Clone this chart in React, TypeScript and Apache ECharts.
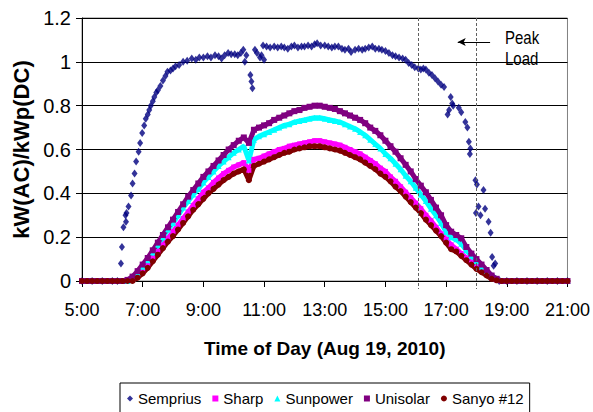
import React, { useEffect, useRef } from "react";
import * as echarts from "echarts";

const FONT = "'Liberation Sans', Arial, sans-serif";

// 10-minute sampling grid for the four band series
const TIMES = [
  "5:00", "5:10", "5:20", "5:30", "5:40", "5:50",
  "6:00", "6:10", "6:20", "6:30", "6:40", "6:50",
  "7:00", "7:10", "7:20", "7:30", "7:40", "7:50",
  "8:00", "8:10", "8:20", "8:30", "8:40", "8:50",
  "9:00", "9:10", "9:20", "9:30", "9:40", "9:50",
  "10:00", "10:10", "10:20", "10:30", "10:40", "10:50",
  "11:00", "11:10", "11:20", "11:30", "11:40", "11:50",
  "12:00", "12:10", "12:20", "12:30", "12:40", "12:50",
  "13:00", "13:10", "13:20", "13:30", "13:40", "13:50",
  "14:00", "14:10", "14:20", "14:30", "14:40", "14:50",
  "15:00", "15:10", "15:20", "15:30", "15:40", "15:50",
  "16:00", "16:10", "16:20", "16:30", "16:40", "16:50",
  "17:00", "17:10", "17:20", "17:30", "17:40", "17:50",
  "18:00", "18:10", "18:20", "18:30", "18:40", "18:50",
  "19:00", "19:10", "19:20", "19:30", "19:40", "19:50",
  "20:00", "20:10", "20:20", "20:30", "20:40", "20:50",
  "21:00",
];

const SHARP = [
  0, 0, 0, 0, 0, 0,
  0, 0, 0, 0, 0.005, 0.02,
  0.045, 0.075, 0.105, 0.135, 0.165, 0.195,
  0.225, 0.255, 0.285, 0.315, 0.345, 0.375,
  0.405, 0.425, 0.45, 0.47, 0.49, 0.505,
  0.52, 0.53, 0.54, 0.505, 0.555, 0.56,
  0.57, 0.58, 0.59, 0.6, 0.605, 0.615,
  0.62, 0.625, 0.63, 0.635, 0.64, 0.64,
  0.635, 0.63, 0.625, 0.62, 0.61, 0.6,
  0.59, 0.58, 0.565, 0.55, 0.535, 0.515,
  0.5, 0.475, 0.455, 0.43, 0.405, 0.38,
  0.355, 0.33, 0.3, 0.275, 0.245, 0.215,
  0.19, 0.165, 0.145, 0.125, 0.105, 0.085,
  0.065, 0.045, 0.03, 0.015, 0.005, 0,
  0, 0, 0, 0, 0, 0,
  0, 0, 0, 0, 0, 0,
  0,
];

const SUNPOWER = [
  0, 0, 0, 0, 0, 0,
  0, 0, 0, 0, 0.01, 0.035,
  0.065, 0.095, 0.13, 0.165, 0.2, 0.235,
  0.265, 0.3, 0.335, 0.365, 0.395, 0.42,
  0.45, 0.475, 0.5, 0.525, 0.545, 0.565,
  0.585, 0.6, 0.615, 0.55, 0.645, 0.66,
  0.67, 0.68, 0.69, 0.7, 0.71, 0.715,
  0.725, 0.73, 0.735, 0.74, 0.745, 0.745,
  0.74, 0.735, 0.73, 0.725, 0.715, 0.705,
  0.695, 0.68, 0.665, 0.645, 0.625, 0.605,
  0.58, 0.56, 0.535, 0.51, 0.48, 0.455,
  0.425, 0.395, 0.365, 0.33, 0.3, 0.265,
  0.225, 0.2, 0.19, 0.17, 0.14, 0.115,
  0.09, 0.065, 0.045, 0.025, 0.01, 0,
  0, 0, 0, 0, 0, 0,
  0, 0, 0, 0, 0, 0,
  0,
];

const UNISOLAR = [
  0, 0, 0, 0, 0, 0,
  0, 0, 0, 0.005, 0.02, 0.045,
  0.075, 0.105, 0.14, 0.175, 0.21, 0.245,
  0.28, 0.315, 0.35, 0.385, 0.415, 0.445,
  0.475, 0.5, 0.525, 0.55, 0.575, 0.6,
  0.62, 0.64, 0.655, 0.63, 0.69, 0.7,
  0.71, 0.72, 0.735, 0.745, 0.755, 0.765,
  0.775, 0.78, 0.79, 0.795, 0.8, 0.8,
  0.795, 0.79, 0.785, 0.775, 0.765, 0.755,
  0.745, 0.735, 0.72, 0.7, 0.685, 0.665,
  0.64, 0.615, 0.59, 0.56, 0.53, 0.5,
  0.465, 0.435, 0.405, 0.37, 0.335, 0.3,
  0.255, 0.225, 0.21, 0.195, 0.155, 0.125,
  0.1, 0.075, 0.05, 0.025, 0.01, 0,
  0, 0, 0, 0, 0, 0,
  0, 0, 0, 0, 0, 0,
  0,
];

const SANYO = [
  0, 0, 0, 0, 0, 0,
  0, 0, 0, 0, 0, 0.015,
  0.035, 0.06, 0.09, 0.12, 0.15, 0.18,
  0.205, 0.235, 0.265, 0.295, 0.325, 0.35,
  0.375, 0.4, 0.42, 0.44, 0.46, 0.475,
  0.49, 0.5, 0.51, 0.46, 0.525, 0.535,
  0.545, 0.555, 0.565, 0.575, 0.585, 0.59,
  0.6, 0.605, 0.61, 0.615, 0.615, 0.615,
  0.61, 0.605, 0.6, 0.595, 0.585, 0.575,
  0.565, 0.555, 0.54, 0.525, 0.51, 0.49,
  0.475, 0.455, 0.43, 0.41, 0.385, 0.36,
  0.335, 0.31, 0.28, 0.255, 0.23, 0.205,
  0.175, 0.145, 0.135, 0.115, 0.095, 0.075,
  0.055, 0.04, 0.025, 0.01, 0.003, 0,
  0, 0, 0, 0, 0, 0,
  0, 0, 0, 0, 0, 0,
  0,
];

// Semprius readings (irregular timestamps)
const SEMPRIUS: [string, number][] = [
  ["5:00", 0], ["5:20", 0], ["5:40", 0], ["6:00", 0], ["6:10", 0],
  ["6:17", 0.08], ["6:19", 0.155], ["6:22", 0.245], ["6:26", 0.3], ["6:27", 0.27],
  ["6:28", 0.31], ["6:32", 0.34], ["6:37", 0.39], ["6:40", 0.445], ["6:44", 0.49],
  ["6:47", 0.545], ["6:52", 0.59], ["6:55", 0.63], ["6:59", 0.675], ["7:03", 0.71],
  ["7:06", 0.74], ["7:10", 0.76], ["7:13", 0.78], ["7:16", 0.8], ["7:20", 0.82],
  ["7:23", 0.84], ["7:27", 0.86], ["7:30", 0.87], ["7:35", 0.89], ["7:40", 0.915],
  ["7:45", 0.935], ["7:49", 0.955], ["7:55", 0.96], ["8:00", 0.97], ["8:05", 0.98],
  ["8:12", 0.985], ["8:20", 1.0], ["8:28", 1.005], ["8:37", 1.015], ["8:45", 1.01],
  ["8:52", 1.02], ["9:00", 1.02], ["9:08", 1.025], ["9:15", 1.02], ["9:23", 1.03],
  ["9:30", 1.025], ["9:36", 1.015], ["9:42", 1.03], ["9:49", 1.04], ["9:55", 1.035],
  ["10:02", 1.035], ["10:08", 1.03], ["10:14", 1.04], ["10:19", 1.055], ["10:22", 1.0],
  ["10:25", 1.03], ["10:33", 0.94], ["10:35", 0.91], ["10:37", 0.88], ["10:42", 1.055],
  ["10:46", 1.04], ["10:52", 1.02], ["10:55", 1.03], ["10:58", 1.075], ["11:00", 1.01],
  ["11:05", 1.07], ["11:12", 1.065], ["11:20", 1.07], ["11:27", 1.065], ["11:34", 1.07],
  ["11:40", 1.065], ["11:47", 1.06], ["11:54", 1.07], ["12:00", 1.075], ["12:07", 1.065],
  ["12:14", 1.07], ["12:20", 1.07], ["12:27", 1.075], ["12:34", 1.07], ["12:40", 1.08],
  ["12:45", 1.085], ["12:52", 1.075], ["13:00", 1.075], ["13:07", 1.07], ["13:14", 1.065],
  ["13:20", 1.07], ["13:27", 1.07], ["13:34", 1.06], ["13:40", 1.055], ["13:47", 1.06],
  ["13:52", 1.045], ["14:00", 1.055], ["14:07", 1.06], ["14:14", 1.055], ["14:20", 1.06],
  ["14:27", 1.065], ["14:34", 1.07], ["14:40", 1.06], ["14:47", 1.06], ["14:53", 1.055],
  ["15:00", 1.05], ["15:07", 1.04], ["15:14", 1.03], ["15:20", 1.025], ["15:27", 1.02],
  ["15:34", 1.015], ["15:40", 1.01], ["15:46", 0.995], ["15:52", 0.985], ["15:58", 0.975],
  ["16:05", 0.97], ["16:10", 0.965], ["16:15", 0.97], ["16:20", 0.965], ["16:26", 0.95],
  ["16:32", 0.94], ["16:38", 0.925], ["16:44", 0.91], ["16:50", 0.895], ["16:56", 0.885],
  ["17:03", 0.76], ["17:06", 0.78], ["17:09", 0.84], ["17:12", 0.81], ["17:14", 0.8],
  ["17:25", 0.79], ["17:30", 0.77], ["17:38", 0.725], ["17:42", 0.7], ["17:45", 0.635],
  ["17:47", 0.58], ["17:48", 0.605], ["17:58", 0.46], ["17:59", 0.31], ["18:01", 0.44],
  ["18:04", 0.34], ["18:08", 0.3], ["18:14", 0.415], ["18:17", 0.33], ["18:24", 0.27],
  ["18:28", 0.22], ["18:31", 0.11], ["18:34", 0.07], ["18:37", 0.08], ["18:45", 0],
  ["19:00", 0], ["19:20", 0], ["19:40", 0], ["20:00", 0], ["20:20", 0], ["20:40", 0], ["21:00", 0],
];

const PEAK_LOAD_LINES = ["16:05", "18:00"];
const ARROW_FROM: [string, number] = ["18:27", 1.09];
const ARROW_TO: [string, number] = ["17:23", 1.09];

const toHours = (s: string) => {
  const [h, m] = s.split(":").map(Number);
  return h + m / 60;
};

const band = (vals: number[]) => TIMES.map((t, i) => [toHours(t), vals[i]]);

export default function App() {
  const ref = useRef<HTMLDivElement>(null);

  useEffect(() => {
    if (!ref.current) return;
    const chart = echarts.init(ref.current, undefined, { renderer: "svg" });

    const bandSeries = (name: string, vals: number[], color: string, symbol: string, size: number) => ({
      name,
      type: "line",
      data: band(vals),
      symbol,
      symbolSize: size,
      showSymbol: true,
      showAllSymbol: true,
      itemStyle: { color },
      lineStyle: { color, width: 5 },
      silent: true,
    });

    chart.setOption({
      animation: false,
      textStyle: { fontFamily: FONT, color: "#000" },
      grid: {
        left: 82,
        right: 20,
        top: 18,
        bottom: 131,
        show: true,
        borderColor: "#808080",
        borderWidth: 1,
        backgroundColor: "transparent",
      },
      legend: {
        data: [
          { name: "Semprius", icon: "diamond" },
          { name: "Sharp", icon: "rect" },
          { name: "Sunpower", icon: "triangle" },
          { name: "Unisolar", icon: "rect" },
          { name: "Sanyo #12", icon: "circle" },
        ],
        left: 120,
        top: 383,
        orient: "horizontal",
        padding: [8, 6, 8, 7],
        borderColor: "#000",
        borderWidth: 1,
        itemWidth: 6,
        itemHeight: 6,
        itemGap: 11,
        textStyle: { fontFamily: FONT, fontSize: 15, color: "#000" },
        selectedMode: false,
      },
      xAxis: {
        type: "value",
        min: 5,
        max: 21,
        interval: 2,
        name: "Time of Day (Aug 19, 2010)",
        nameLocation: "middle",
        nameGap: 58,
        nameTextStyle: { fontFamily: FONT, fontSize: 19, fontWeight: "bold", color: "#000" },
        axisLine: { show: true, onZero: false, lineStyle: { color: "#000", width: 1 } },
        axisTick: { show: true, inside: false, length: 6, lineStyle: { color: "#000" } },
        axisLabel: {
          fontFamily: FONT,
          fontSize: 18,
          color: "#000",
          margin: 20,
          formatter: (v: number) => `${v}:00`,
        },
        splitLine: { show: false },
      },
      yAxis: {
        type: "value",
        min: 0,
        max: 1.2,
        interval: 0.2,
        name: "kW(AC)/kWp(DC)",
        nameLocation: "middle",
        nameRotate: 90,
        nameGap: 48,
        nameTextStyle: { fontFamily: FONT, fontSize: 22, fontWeight: "bold", color: "#000" },
        axisLine: { show: true, lineStyle: { color: "#000", width: 1 } },
        axisTick: { show: true, inside: false, length: 6, lineStyle: { color: "#000" } },
        axisLabel: { fontFamily: FONT, fontSize: 20, color: "#000", margin: 11 },
        splitLine: { show: true, lineStyle: { color: "#000", width: 1 } },
      },
      series: [
        {
          name: "Semprius",
          type: "scatter",
          data: SEMPRIUS.map(([t, v]) => [toHours(t), v]),
          symbol: "diamond",
          symbolSize: [6, 8],
          itemStyle: { color: "#000080" },
          silent: true,
          markLine: {
            silent: true,
            animation: false,
            label: { show: false },
            data: [
              [
                {
                  coord: [toHours(ARROW_FROM[0]), ARROW_FROM[1]],
                  symbol: "none",
                  lineStyle: { color: "#000", width: 1, type: "solid" },
                },
                {
                  coord: [toHours(ARROW_TO[0]), ARROW_TO[1]],
                  symbol: "arrow",
                  symbolSize: [6, 8],
                },
              ],
            ],
          },
        },
        bandSeries("Sharp", SHARP, "#FF00FF", "rect", 5),
        bandSeries("Sunpower", SUNPOWER, "#00FFFF", "triangle", 6),
        bandSeries("Unisolar", UNISOLAR, "#800080", "rect", 6),
        bandSeries("Sanyo #12", SANYO, "#800000", "circle", 6),
      ],
    });

    // Peak-load boundary lines (positions from the chart's own scales) and annotation
    const graphics: any[] = PEAK_LOAD_LINES.map((t) => {
      const top = chart.convertToPixel({ gridIndex: 0 }, [toHours(t), 1.2]) as number[];
      const bottom = chart.convertToPixel({ gridIndex: 0 }, [toHours(t), 0]) as number[];
      const x = Math.round(top[0]) + 0.5;
      return {
        type: "line",
        silent: true,
        z: 50,
        shape: { x1: x, y1: top[1], x2: x, y2: bottom[1] + 8 },
        style: { stroke: "#606060", lineWidth: 1, lineDash: [3, 2] },
      };
    });
    graphics.push(
      {
        type: "text",
        x: 505,
        y: 29,
        scaleY: 1.25,
        z: 100,
        style: { text: "Peak", fontFamily: FONT, fontSize: 15, fill: "#000", verticalAlign: "top" },
      },
      {
        type: "text",
        x: 505,
        y: 50,
        scaleY: 1.25,
        z: 100,
        style: { text: "Load", fontFamily: FONT, fontSize: 15, fill: "#000", verticalAlign: "top" },
      }
    );
    chart.setOption({ graphic: graphics });

    return () => chart.dispose();
  }, []);

  return (
    <div
      ref={ref}
      style={{ position: "absolute", left: 0, top: 0, width: 593, height: 412 }}
    />
  );
}
